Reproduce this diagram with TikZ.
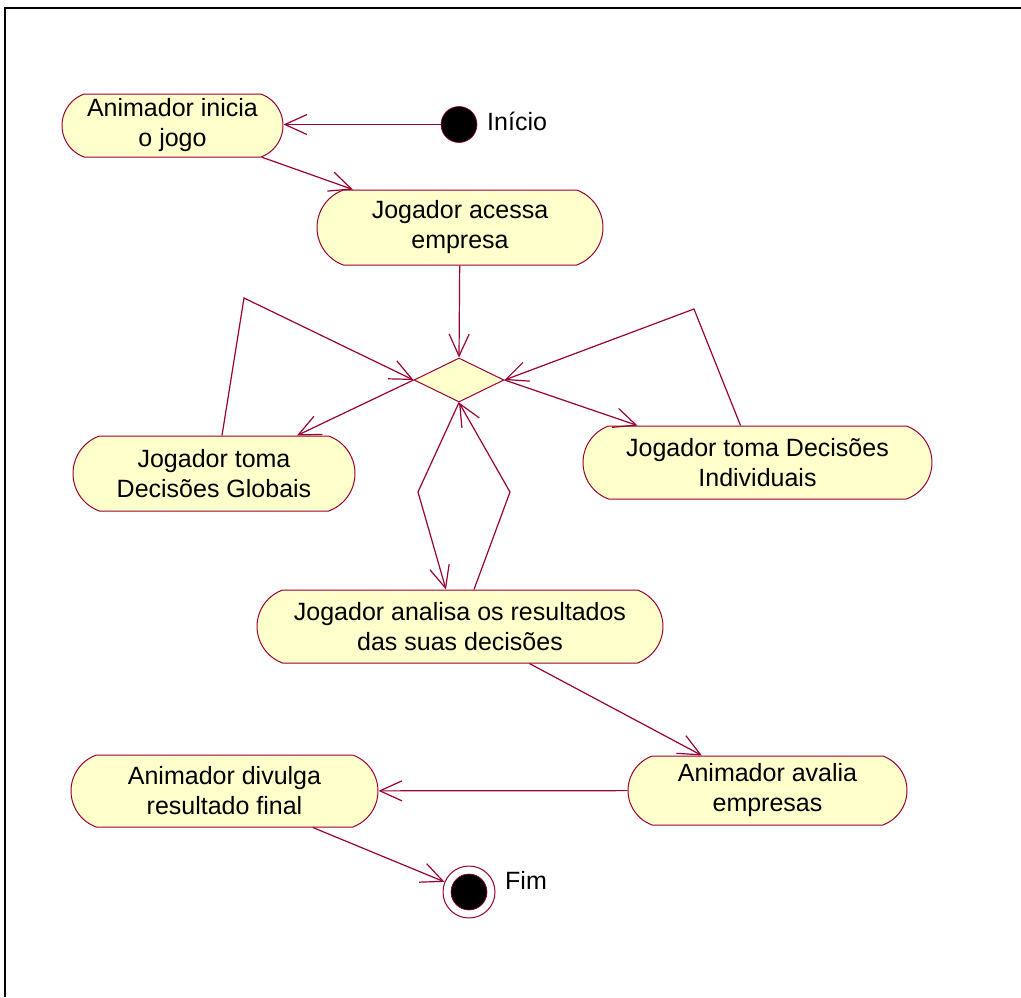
\documentclass[tikz,border=0pt]{standalone}
\usepackage{fontspec}
\setmainfont{Liberation Sans}
\usetikzlibrary{shapes.misc,shapes.geometric,arrows.meta,calc}
\definecolor{flowline}{RGB}{153,0,51}
\definecolor{actfill}{RGB}{255,255,204}
\begin{document}
\begin{tikzpicture}[x=1pt,y=-1pt,
  activity/.style={rounded rectangle, rounded rectangle arc length=140,
    draw=flowline, fill=actfill, line width=1pt, inner sep=0pt, align=center,
    font=\fontsize{25}{30}\selectfont},
  choice/.style={diamond, draw=flowline, fill=actfill, line width=1pt,
    inner sep=0pt, minimum width=90pt, minimum height=44pt},
  flow/.style={draw=flowline, line width=1.2pt,
    -{Straight Barb[length=22pt,width=20pt]}},
  caption/.style={anchor=west, inner sep=0pt, font=\fontsize{25}{30}\selectfont}]

\useasboundingbox (0,0) rectangle (1021,997);
% frame
\draw[line width=2pt] (4.7,997) -- (4.7,8.3) -- (1021,8.3);

% activities
\node[activity, minimum width=221pt, minimum height=63pt] (A) at (172.5,125.5) {Animador inicia\\o jogo};
\node[activity, minimum width=286pt, minimum height=75pt] (B) at (460,227.5) {Jogador acessa\\empresa};
\node[choice] (dia) at (459,380) {};
\node[activity, minimum width=282pt, minimum height=75pt] (C) at (214,473.5) {Jogador toma\\Decisões Globais};
\node[activity, minimum width=349pt, minimum height=73pt] (D) at (757.5,462.5) {Jogador toma Decisões\\Individuais};
\node[activity, minimum width=406pt, minimum height=73pt] (E) at (460,626.5) {Jogador analisa os resultados\\das suas decisões};
\node[activity, minimum width=307pt, minimum height=72pt] (F) at (224.5,791) {Animador divulga\\resultado final};
\node[activity, minimum width=279pt, minimum height=69pt] (G) at (767.5,790.5) {Animador avalia\\empresas};

% start and end states
\node[circle, fill=black, draw=flowline, line width=0.6pt, minimum size=36pt, inner sep=0pt] (start) at (459,124.5) {};
\node[circle, fill=white, draw=flowline, line width=1pt, minimum size=52pt, inner sep=0pt] (finish) at (469,892) {};
\node[circle, fill=black, draw=flowline, line width=0.6pt, minimum size=36pt, inner sep=0pt] (finishcore) at (finish) {};
\node[caption] (startlbl) at (487,121) {Início};
\node[caption] (finishlbl) at (505,880) {Fim};

% bend points
\coordinate (gbend) at (244,298);
\coordinate (ibend) at (694,309);
\coordinate (dl) at (418,492);
\coordinate (dr) at (510,492);

% transitions
\path[flow] (start.west) -- (start.west -| A.east);
\path[flow] (A) -- (B);
\path[flow] (B) -- (dia.north);
\path[flow] ($(C.north)+(8,0)$) -- (gbend) -- (dia.west);
\path[flow] (dia.west) -- ($(C.north)+(83,0)$);
\path[flow] ($(D.north)+(-17,0)$) -- (ibend) -- (dia.east);
\path[flow] (dia.east) -- ($(D.north)+(-120,0)$);
\path[flow] (dia.south) -- (dl) -- ($(E.north)+(-14,0)$);
\path[flow] ($(E.north)+(14,0)$) -- (dr) -- (dia.south);
\path[flow] (E) -- (G);
\path[flow] (G) -- (F);
\path[flow] (F) -- (finish);
\end{tikzpicture}
\end{document}
